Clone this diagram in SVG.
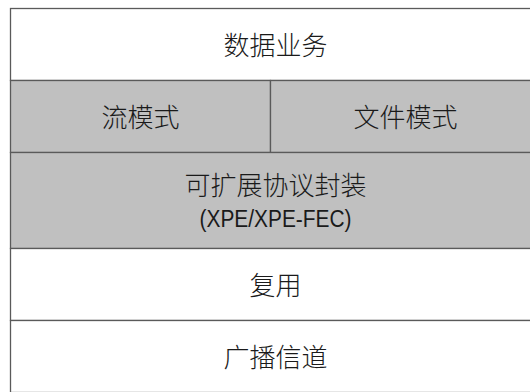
<svg xmlns="http://www.w3.org/2000/svg" width="530" height="392" viewBox="0 0 530 392">
<style>
.box{stroke:#5a5a5a;stroke-width:1.3}
.w{fill:#ffffff}
.g{fill:#c0c0c0}
.t{font-family:"Noto Sans CJK SC","Liberation Sans",sans-serif;font-size:26px;font-weight:300;fill:#1a1a1a;text-anchor:middle}
.l{font-family:"Liberation Sans","Noto Sans",sans-serif;font-size:23px;fill:#1a1a1a;text-anchor:middle}
</style>
<rect x="0" y="0" width="530" height="392" fill="#ffffff"/>
<g id="data-service">
<rect class="box w" x="10.5" y="8.5" width="530" height="72"/>
<text class="t" x="275.5" y="54.5">数据业务</text>
</g>
<g id="stream-mode">
<rect class="box g" x="10.5" y="80.5" width="260" height="72"/>
<text class="t" x="140.5" y="126.5">流模式</text>
</g>
<g id="file-mode">
<rect class="box g" x="270.5" y="80.5" width="270" height="72"/>
<text class="t" x="405.5" y="126.5">文件模式</text>
</g>
<g id="xpe">
<rect class="box g" x="10.5" y="152.5" width="530" height="96"/>
<text class="t" x="275.5" y="195">可扩展协议封装</text>
<text class="l" x="275.5" y="227" textLength="152" lengthAdjust="spacingAndGlyphs">(XPE/XPE-FEC)</text>
</g>
<g id="mux">
<rect class="box w" x="10.5" y="248.5" width="530" height="72"/>
<text class="t" x="275.5" y="294.5">复用</text>
</g>
<g id="broadcast">
<rect class="box w" x="10.5" y="320.5" width="530" height="72"/>
<text class="t" x="275.5" y="366.5">广播信道</text>
</g>
<g id="connectors"></g>
</svg>
